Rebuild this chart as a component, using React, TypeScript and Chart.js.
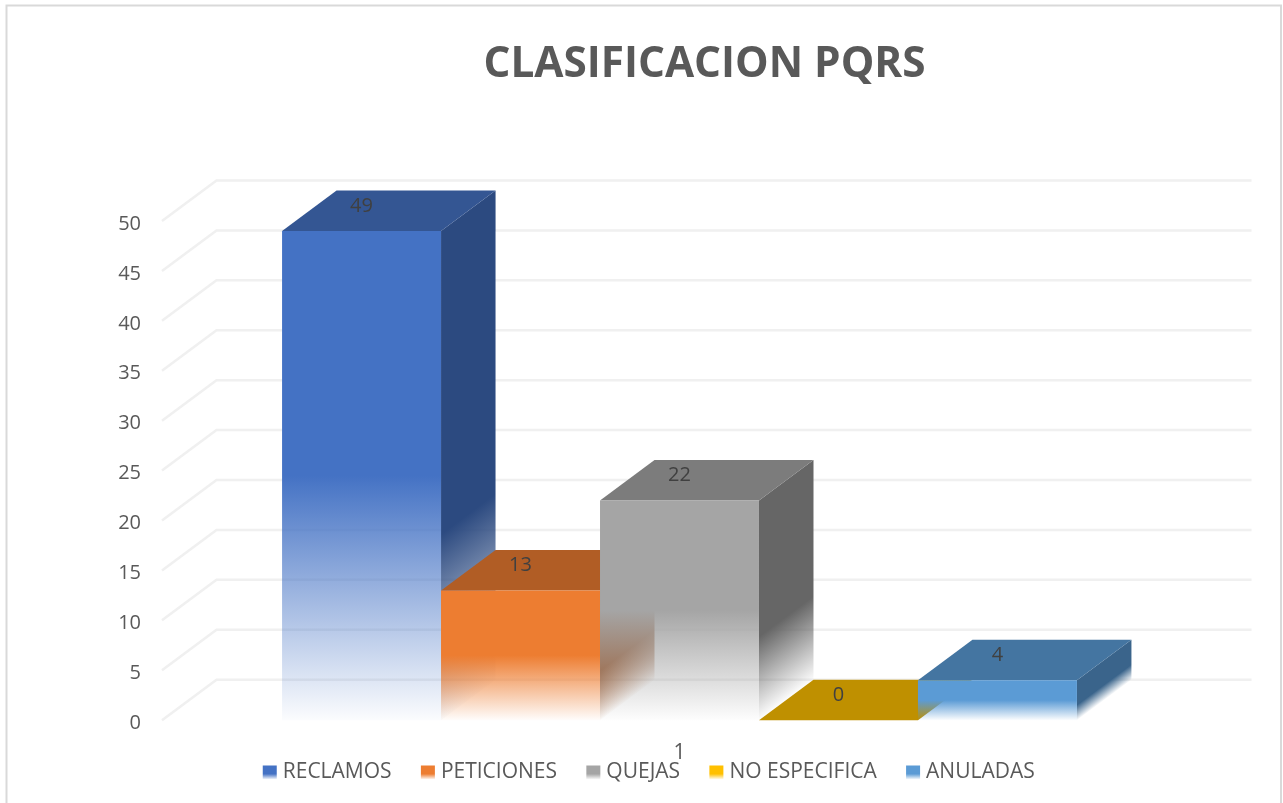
import React, { useEffect, useRef } from "react";
import { Chart, registerables } from "chart.js";

Chart.register(...registerables);

const categories = ["1"];
const seriesNames = ["RECLAMOS", "PETICIONES", "QUEJAS", "NO ESPECIFICA", "ANULADAS"];
const reclamos = [49];
const peticiones = [13];
const quejas = [22];
const noEspecifica = [0];
const anuladas = [4];
const seriesValues = [reclamos, peticiones, quejas, noEspecifica, anuladas];
const frontColors = ["#4472C4", "#ED7D31", "#A5A5A5", "#FFC000", "#5B9BD5"];
const topColors = ["#345693", "#B15D25", "#7C7C7C", "#BF9000", "#4475A1"];
const sideColors = ["#2C4A80", "#9A5020", "#666666", "#A67C00", "#3A648B"];
const FONT = "'Open Sans', sans-serif";
const DX = 54.5;
const DY = 40.5;

function fade(hex: string) {
  const n = parseInt(hex.slice(1), 16);
  return `rgba(${(n >> 16) & 255},${(n >> 8) & 255},${n & 255},0.02)`;
}

function vGrad(ctx: CanvasRenderingContext2D, y0: number, y1: number, color: string, stop: number) {
  const g = ctx.createLinearGradient(0, y0, 0, y1);
  g.addColorStop(0, color);
  g.addColorStop(stop, color);
  g.addColorStop(1, fade(color));
  return g;
}

const scene3d = {
  id: "scene3d",
  afterLayout(chart: any) {
    chart.titleBlock.left += 56;
    chart.titleBlock.right += 56;
    chart.legend.top -= 10;
    chart.legend.bottom -= 10;
    chart.legend.left -= 1;
    chart.legend.right -= 1;
    chart.scales.x.bottom = chart.height;
    chart.scales.y.getLabelItems(chart.chartArea).forEach((it: any) => {
      it.textOffset += 3;
    });
  },
  beforeDraw(chart: any) {
    const ctx = chart.ctx;
    ctx.save();
    ctx.fillStyle = "#ffffff";
    ctx.fillRect(0, 0, chart.width, chart.height);
    ctx.strokeStyle = "#d9d9d9";
    ctx.lineWidth = 2;
    ctx.strokeRect(6.5, 5.5, 1274.5, 820);
    ctx.restore();
  },
  beforeDatasetsDraw(chart: any) {
    const ctx: CanvasRenderingContext2D = chart.ctx;
    const { y } = chart.scales;
    const area = chart.chartArea;
    ctx.save();
    ctx.strokeStyle = "#f0f0f0";
    ctx.lineWidth = 2.5;
    for (const t of y.ticks) {
      const py = y.getPixelForValue(t.value);
      ctx.beginPath();
      ctx.moveTo(area.left, py);
      ctx.lineTo(area.left + DX, py - DY);
      ctx.lineTo(area.right + DX, py - DY);
      ctx.stroke();
    }
    ctx.restore();

    const base = y.getPixelForValue(0);
    chart.data.datasets.forEach((_: any, i: number) => {
      const bar = chart.getDatasetMeta(i).data[0];
      const half = bar.width / 2;
      const l = bar.x - half;
      const r = bar.x + half;
      const top = bar.y;
      const h = base - top;
      if (h > 0) {
        ctx.save();
        ctx.transform(1, -DY / DX, 0, 1, r, top);
        ctx.fillStyle = vGrad(ctx, 0, h, sideColors[i], 0.62);
        ctx.fillRect(0, 0, DX, h);
        ctx.restore();
      }
      ctx.save();
      ctx.fillStyle = topColors[i];
      ctx.beginPath();
      ctx.moveTo(l, top);
      ctx.lineTo(r, top);
      ctx.lineTo(r + DX, top - DY);
      ctx.lineTo(l + DX, top - DY);
      ctx.closePath();
      ctx.fill();
      ctx.restore();
      bar.draw(ctx, area);
    });

    ctx.save();
    ctx.font = `20px ${FONT}`;
    ctx.fillStyle = "#404040";
    ctx.textAlign = "center";
    ctx.textBaseline = "middle";
    chart.data.datasets.forEach((ds: any, i: number) => {
      const bar = chart.getDatasetMeta(i).data[0];
      ctx.fillText(String(ds.data[0]), bar.x, bar.y - 25);
    });
    ctx.restore();
    return false;
  },
  afterDraw(chart: any) {
    const ctx: CanvasRenderingContext2D = chart.ctx;
    chart.legend.legendHitBoxes.forEach((box: any, i: number) => {
      const top = box.top + (box.height - 14) / 2;
      ctx.fillStyle = vGrad(ctx, top, top + 14, frontColors[i], 0.6);
      ctx.fillRect(box.left + 2.5, top, 14, 14);
    });
  },
};

export default function App() {
  const ref = useRef<HTMLCanvasElement>(null);
  useEffect(() => {
    const chart = new Chart(ref.current as HTMLCanvasElement, {
      type: "bar",
      data: {
        labels: categories,
        datasets: seriesNames.map((label, i) => ({
          label,
          data: seriesValues[i],
          backgroundColor: (c: any) => {
            const y = c.chart.scales.y;
            const v = c.parsed ? c.parsed.y : seriesValues[i][0];
            if (!y || !v) return frontColors[i];
            return vGrad(c.chart.ctx, y.getPixelForValue(v), y.getPixelForValue(0), frontColors[i], 0.5);
          },
          categoryPercentage: 0.768,
          barPercentage: 1,
        })),
      },
      options: {
        responsive: false,
        animation: false,
        layout: { padding: { left: 100, right: 86, top: 0, bottom: 0 } },
        plugins: {
          tooltip: { enabled: false },
          title: {
            display: true,
            text: "CLASIFICACION PQRS",
            color: "#595959",
            font: { family: FONT, size: 42.3, weight: "bold", lineHeight: 1.2 },
            padding: { top: 39.6, bottom: 130.6 },
          },
          legend: {
            position: "bottom",
            labels: {
              color: "#595959",
              font: { family: FONT, size: 21 },
              boxWidth: 12,
              boxHeight: 14,
              padding: 26.8,
              generateLabels: (chart: any) =>
                chart.data.datasets.map((ds: any, i: number) => ({
                  text: ds.label,
                  fillStyle: "rgba(0,0,0,0)",
                  strokeStyle: "rgba(0,0,0,0)",
                  lineWidth: 0,
                  fontColor: "#595959",
                  hidden: false,
                  datasetIndex: i,
                })),
            },
          },
        },
        scales: {
          x: {
            grid: { display: false, drawTicks: false },
            border: { display: false },
            ticks: { color: "#595959", font: { family: FONT, size: 21 }, padding: 20 },
            afterFit: (s: any) => {
              s.height = 25;
            },
          },
          y: {
            min: 0,
            max: 50,
            grid: { display: false, drawTicks: false },
            border: { display: false },
            ticks: { stepSize: 5, color: "#595959", font: { family: FONT, size: 20 }, padding: 21 },
            afterFit: (s: any) => {
              s.width = 62;
            },
          },
        },
      },
      plugins: [scene3d],
    } as any);
    return () => chart.destroy();
  }, []);
  return (
    <div style={{ position: "fixed", left: 0, top: 0, width: 1283, height: 803, overflow: "hidden", background: "#fff" }}>
      <canvas ref={ref} width={1283} height={803} style={{ display: "block" }} />
    </div>
  );
}
